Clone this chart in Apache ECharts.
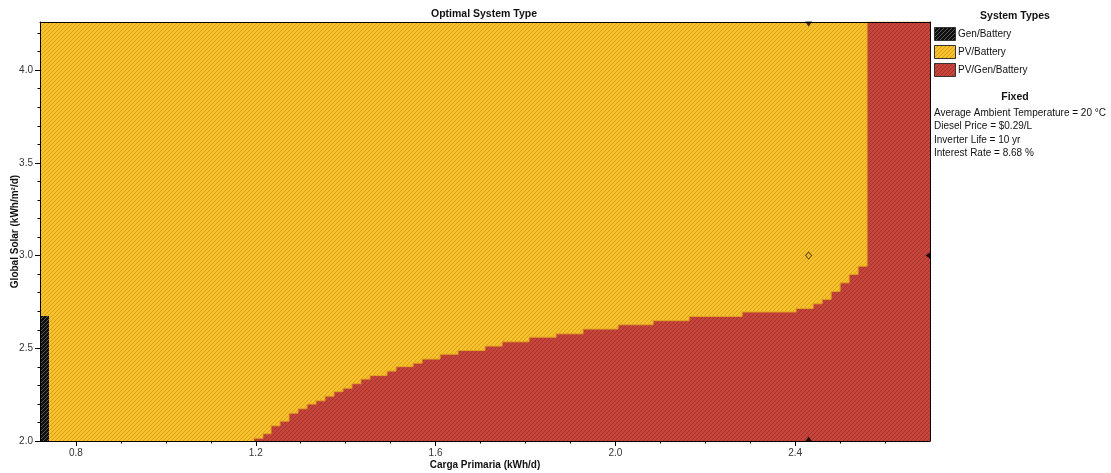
<!DOCTYPE html>
<html>
<head>
<meta charset="utf-8">
<script src="https://cdn.jsdelivr.net/npm/echarts@6/dist/echarts.min.js"></script>
<style>html,body{margin:0;padding:0;background:#fff}#c{width:1111px;height:473px}</style>
</head>
<body>
<div id="c"></div>
<script>
// ---------------- data ----------------
const loadRange = [0.72, 2.70];          // Carga Primaria (kWh/d)
const solarRange = [2.0, 4.26];          // Global Solar (kWh/m2/d)
const xTickLabels = [0.8, 1.2, 1.6, 2.0, 2.4];
const xMinorTicks = [0.8, 0.9, 1.0, 1.1, 1.2, 1.3, 1.4, 1.5, 1.6, 1.7, 1.8, 1.9, 2.0, 2.1, 2.2, 2.3, 2.4, 2.5, 2.6];
const yTickLabels = [2.0, 2.5, 3.0, 3.5, 4.0];
const yMinorTicks = [2.0, 2.1, 2.2, 2.3, 2.4, 2.5, 2.6, 2.7, 2.8, 2.9, 3.0, 3.1, 3.2, 3.3, 3.4, 3.5, 3.6, 3.7, 3.8, 3.9, 4.0, 4.1, 4.2];

// PV/Battery region (whole area, drawn first)
const pvBatteryLoad = [0.72, 2.70];
const pvBatterySolar = [4.26, 4.26];

// Gen/Battery region (upper edge)
const genBatteryLoad = [0.72, 0.74];
const genBatterySolar = [2.674, 2.674];

// PV/Gen/Battery region: step boundary (solar level held from each load value to the next)
const boundaryLoad = [1.196, 1.216, 1.234, 1.254, 1.274, 1.294, 1.314, 1.334, 1.354, 1.374,
  1.394, 1.414, 1.434, 1.454, 1.492, 1.512, 1.550, 1.570, 1.610, 1.650,
  1.710, 1.748, 1.808, 1.868, 1.928, 2.006, 2.084, 2.164, 2.282, 2.402,
  2.440, 2.460, 2.480, 2.500, 2.520, 2.540, 2.560, 2.700];
const boundarySolar = [2.015, 2.039, 2.082, 2.107, 2.150, 2.174, 2.199, 2.217, 2.242, 2.266,
  2.285, 2.309, 2.334, 2.353, 2.377, 2.401, 2.420, 2.442, 2.468, 2.488,
  2.512, 2.535, 2.560, 2.578, 2.604, 2.627, 2.649, 2.672, 2.696, 2.715,
  2.740, 2.764, 2.807, 2.853, 2.899, 2.943, 4.26, 4.26];

// current sensitivity point
const currentLoad = 2.43;
const currentSolar = 3.0;

const systemTypes = ['Gen/Battery', 'PV/Battery', 'PV/Gen/Battery'];
const fixedTitle = 'Fixed';
const fixedLines = ['Average Ambient Temperature = 20 °C', 'Diesel Price = $0.29/L', 'Inverter Life = 10 yr', 'Interest Rate = 8.68 %'];

// ---------------- styling ----------------
const FONT = "'Liberation Sans', Arial, sans-serif";
function makePattern(base, line, period) {
  const c = document.createElement('canvas');
  c.width = period; c.height = period;
  const g = c.getContext('2d');
  g.fillStyle = base; g.fillRect(0, 0, period, period);
  g.fillStyle = line;
  for (let i = 0; i < period; i++) g.fillRect(i, period - 1 - i, 1, 1);
  return { image: c, repeat: 'repeat' };
}
const patYellow = makePattern('#F9C22B', '#D6A021', 4);
const patRed = makePattern('#C9453B', '#9F342C', 4);
const patBlack = makePattern('#0e0e0e', '#5a5a5a', 4);
const patterns = [patBlack, patYellow, patRed];

const zip = (a, b) => a.map((v, i) => [v, b[i]]);

const chart = echarts.init(document.getElementById('c'), null, { renderer: 'canvas' });

const axisCommon = { type: 'value', splitLine: { show: false }, z: 5 };
const xBase = Object.assign({}, axisCommon, { min: loadRange[0], max: loadRange[1] });
const yBase = Object.assign({}, axisCommon, { min: solarRange[0], max: solarRange[1] });

const legendGraphics = [];
legendGraphics.push({ type: 'text', x: 1015, y: 16, style: { text: 'System Types', fontFamily: FONT, fontSize: 10.5, fontWeight: 'bold', fill: '#111', align: 'center', verticalAlign: 'middle' } });
systemTypes.forEach((name, i) => {
  const cy = 34 + i * 18;
  legendGraphics.push({ type: 'rect', shape: { x: 934.5, y: cy - 6.5, width: 21, height: 13 }, style: { fill: patterns[i], stroke: '#333', lineWidth: 1 } });
  legendGraphics.push({ type: 'text', x: 958, y: cy, style: { text: name, fontFamily: FONT, fontSize: 10, fill: '#111', align: 'left', verticalAlign: 'middle' } });
});
legendGraphics.push({ type: 'text', x: 1015, y: 97, style: { text: fixedTitle, fontFamily: FONT, fontSize: 10.5, fontWeight: 'bold', fill: '#111', align: 'center', verticalAlign: 'middle' } });
fixedLines.forEach((t, i) => {
  legendGraphics.push({ type: 'text', x: 934, y: 113 + i * 13.5, style: { text: t, fontFamily: FONT, fontSize: 10, fill: '#111', align: 'left', verticalAlign: 'middle' } });
});

const option = {
  animation: false,
  backgroundColor: '#ffffff',
  title: {
    text: 'Optimal System Type', left: 431, top: 9, padding: 0,
    textStyle: { fontFamily: FONT, fontSize: 10.5, fontWeight: 'bold', color: '#111' }
  },
  grid: { left: 40, right: 181, top: 22, bottom: 32, containLabel: false, outerBoundsMode: 'none' },
  xAxis: [
    Object.assign({}, xBase, {
      position: 'bottom',
      name: 'Carga Primaria (kWh/d)', nameLocation: 'middle', nameGap: 19, nameMoveOverlap: false,
      nameTextStyle: { fontFamily: FONT, fontSize: 10, fontWeight: 'bold', color: '#111' },
      axisLine: { show: true, onZero: false, lineStyle: { color: '#000', width: 1 } },
      axisTick: { show: true, length: 5, customValues: xTickLabels, lineStyle: { color: '#000' } },
      axisLabel: { customValues: xTickLabels, formatter: v => v.toFixed(1), margin: 7, fontFamily: FONT, fontSize: 10, color: '#333' }
    }),
    Object.assign({}, xBase, {
      position: 'bottom',
      axisLine: { show: false, onZero: false },
      axisTick: { show: true, length: 2.5, customValues: xMinorTicks, lineStyle: { color: '#000' } },
      axisLabel: { show: false }
    }),
    Object.assign({}, xBase, {
      position: 'top',
      axisLine: { show: true, onZero: false, lineStyle: { color: '#000', width: 1 } },
      axisTick: { show: false }, axisLabel: { show: false }
    })
  ],
  yAxis: [
    Object.assign({}, yBase, {
      position: 'left',
      name: 'Global Solar (kWh/m²/d)', nameLocation: 'middle', nameGap: 20, nameMoveOverlap: false,
      nameTextStyle: { fontFamily: FONT, fontSize: 10, fontWeight: 'bold', color: '#111' },
      axisLine: { show: true, onZero: false, lineStyle: { color: '#000', width: 1 } },
      axisTick: { show: true, length: 5, customValues: yTickLabels, lineStyle: { color: '#000' } },
      axisLabel: { customValues: yTickLabels, formatter: v => v.toFixed(1), margin: 7, fontFamily: FONT, fontSize: 10, color: '#333' }
    }),
    Object.assign({}, yBase, {
      position: 'left',
      axisLine: { show: false, onZero: false },
      axisTick: { show: true, length: 2.5, customValues: yMinorTicks, lineStyle: { color: '#000' } },
      axisLabel: { show: false }
    }),
    Object.assign({}, yBase, {
      position: 'right',
      axisLine: { show: true, onZero: false, lineStyle: { color: '#000', width: 1 } },
      axisTick: { show: false }, axisLabel: { show: false }
    })
  ],
  series: [
    {
      name: systemTypes[1], type: 'line', xAxisIndex: 0, yAxisIndex: 0,
      data: zip(pvBatteryLoad, pvBatterySolar), symbol: 'none',
      lineStyle: { width: 0 }, areaStyle: { color: patYellow, opacity: 1, origin: 'start' }, z: 1
    },
    {
      name: systemTypes[2], type: 'line', xAxisIndex: 0, yAxisIndex: 0, step: 'end',
      data: zip(boundaryLoad, boundarySolar), symbol: 'none',
      lineStyle: { width: 1, color: '#E2A324' }, areaStyle: { color: patRed, opacity: 1, origin: 'start' }, z: 2
    },
    {
      name: systemTypes[0], type: 'line', xAxisIndex: 0, yAxisIndex: 0,
      data: zip(genBatteryLoad, genBatterySolar), symbol: 'none',
      lineStyle: { width: 0 }, areaStyle: { color: patBlack, opacity: 1, origin: 'start' }, z: 3
    },
    {
      name: 'current', type: 'scatter', xAxisIndex: 0, yAxisIndex: 0,
      data: [[currentLoad, currentSolar]], symbol: 'diamond', symbolSize: [6, 7],
      itemStyle: { color: 'rgba(0,0,0,0)', borderColor: '#4a3a10', borderWidth: 1 }, z: 4, silent: true
    },
    {
      name: 'markers', type: 'scatter', xAxisIndex: 0, yAxisIndex: 0, clip: false, silent: true,
      data: [
        { value: [currentLoad, solarRange[1]], symbolRotate: 180, symbolOffset: [0, 2] },
        { value: [currentLoad, solarRange[0]], symbolRotate: 0, symbolOffset: [0, -2] },
        { value: [loadRange[1], currentSolar], symbolRotate: 90, symbolOffset: [-2, 0] }
      ],
      symbol: 'triangle', symbolSize: [7, 5], itemStyle: { color: '#000' }, z: 6
    }
  ],
  graphic: legendGraphics
};
chart.setOption(option);
</script>
</body>
</html>
